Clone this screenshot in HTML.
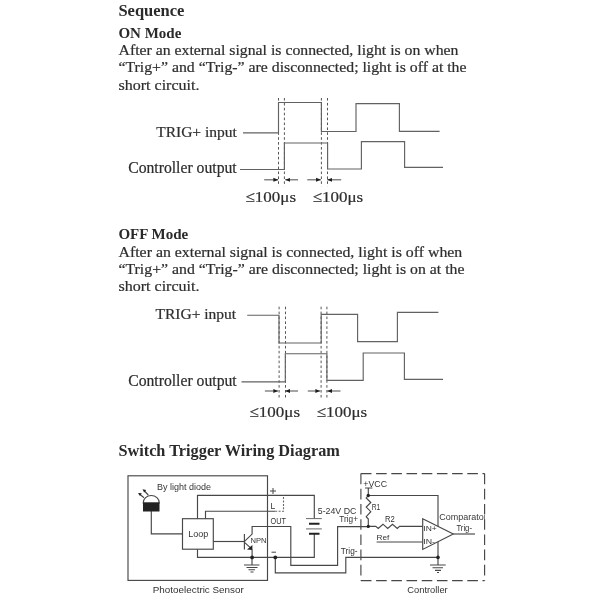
<!DOCTYPE html>
<html><head><meta charset="utf-8">
<style>
html,body{margin:0;padding:0;background:#fff;width:600px;height:600px;overflow:hidden}
svg{display:block;will-change:transform}
.s{font-family:"Liberation Serif",serif;fill:#2e2e2e;stroke:#2e2e2e;stroke-width:0.22}
.b{font-weight:bold;fill:#2a2a2a;stroke:none}
.ss{font-family:"Liberation Sans",sans-serif;fill:#333}
.ln{fill:none;stroke:#626262;stroke-width:1.15}
.dl{fill:none;stroke:#555;stroke-width:1;stroke-dasharray:2.6 2.3}
</style></head><body>
<svg width="600" height="600" viewBox="0 0 600 600">
<defs>
<marker id="ar" viewBox="0 0 10 10" refX="10" refY="5" markerWidth="4.2" markerHeight="4.2" orient="auto"><path d="M0,1 L10,5 L0,9 z" fill="#1e1e1e"/></marker>
</defs>
<!-- Sequence / ON Mode -->
<text class="s b" x="118.4" y="16" font-size="16.5">Sequence</text>
<text class="s b" x="118.4" y="37.6" font-size="15">ON Mode</text>
<text class="s" x="118.5" y="55" font-size="15" textLength="340" lengthAdjust="spacingAndGlyphs">After an external signal is connected, light is on when</text>
<text class="s" x="118.5" y="72.4" font-size="15" textLength="348" lengthAdjust="spacingAndGlyphs">“Trig+” and “Trig-” are disconnected; light is off at the</text>
<text class="s" x="118.5" y="90" font-size="15" textLength="81" lengthAdjust="spacingAndGlyphs">short circuit.</text>
<text class="s" x="156.2" y="136.7" font-size="15.5">TRIG+ input</text>
<text class="s" x="128.2" y="172.9" font-size="15.7">Controller output</text>
<text class="s" x="245.5" y="202" font-size="15.5" textLength="50.5" lengthAdjust="spacingAndGlyphs">≤100μs</text>
<text class="s" x="312.7" y="202" font-size="15.5" textLength="50.5" lengthAdjust="spacingAndGlyphs">≤100μs</text>
<g class="dl"><path d="M278.5,98V186.3M284.4,98V186.3M321.4,98V186.3M327.5,98V186.3"/></g>
<path class="ln" d="M243,132.8H278.5V102.5H321.4V131.5H356V103.6H399.4V131.4H439.6"/>
<path class="ln" d="M240,169.5H284.4V143H327.6V169H361.4V141.6H404.6V167.4H443"/>
<g class="ln" stroke="#444" stroke-width="1"><path d="M264.2,179.8H278.2" marker-end="url(#ar)"/><path d="M298,179.8H285.2" marker-end="url(#ar)"/><path d="M307.3,179.8H320.9" marker-end="url(#ar)"/><path d="M341.2,179.8H327.2" marker-end="url(#ar)"/></g>

<!-- OFF Mode -->
<text class="s b" x="118.4" y="239.4" font-size="15">OFF Mode</text>
<text class="s" x="118.5" y="257" font-size="15" textLength="343.8" lengthAdjust="spacingAndGlyphs">After an external signal is connected, light is off when</text>
<text class="s" x="118.5" y="274" font-size="15" textLength="346" lengthAdjust="spacingAndGlyphs">“Trig+” and “Trig-” are disconnected; light is on at the</text>
<text class="s" x="118.5" y="291" font-size="15" textLength="81" lengthAdjust="spacingAndGlyphs">short circuit.</text>
<text class="s" x="155.5" y="318.7" font-size="15.5">TRIG+ input</text>
<text class="s" x="128.2" y="385.9" font-size="15.7">Controller output</text>
<text class="s" x="249.5" y="417.3" font-size="15.5" textLength="50.5" lengthAdjust="spacingAndGlyphs">≤100μs</text>
<text class="s" x="316.7" y="417.3" font-size="15.5" textLength="50.5" lengthAdjust="spacingAndGlyphs">≤100μs</text>
<g class="dl"><path d="M279.1,306.7V398.7M285.5,306.7V398.7M321.1,306.7V398.7M326.9,306.7V398.7"/></g>
<path class="ln" d="M247.2,315.2H279V343H321.2V314.4H357.6V341.6H397.4V312.4H438.4"/>
<path class="ln" d="M241.5,381.9H285.3V353.7H326.9V380.4H363.2V353H404.4V379.4H443"/>
<g class="ln" stroke="#444" stroke-width="1"><path d="M264.9,391H278.2" marker-end="url(#ar)"/><path d="M298,391H285.2" marker-end="url(#ar)"/><path d="M307.8,391H320.2" marker-end="url(#ar)"/><path d="M340.5,391H327.2" marker-end="url(#ar)"/></g>

<!-- Wiring -->
<text class="s b" x="118.4" y="456" font-size="16.3">Switch Trigger Wiring Diagram</text>

<g font-family="Liberation Sans, sans-serif" fill="#333">
<text x="157" y="489.7" font-size="9" textLength="54" lengthAdjust="spacingAndGlyphs">By light diode</text>
<text x="188.3" y="536.7" font-size="9" textLength="20" lengthAdjust="spacingAndGlyphs">Loop</text>
<text x="250.5" y="542.5" font-size="7.2" textLength="16" lengthAdjust="spacingAndGlyphs">NPN</text>
<text x="270.6" y="508.5" font-size="8.5">L</text>
<text x="270.6" y="524" font-size="8.5" textLength="15.4" lengthAdjust="spacingAndGlyphs">OUT</text>
<text x="317.8" y="513.9" font-size="8.8" textLength="38.5" lengthAdjust="spacingAndGlyphs">5-24V DC</text>
<text x="339.3" y="522.1" font-size="8.5" textLength="18.7" lengthAdjust="spacingAndGlyphs">Trig+</text>
<text x="340.8" y="553.7" font-size="8.5" textLength="16.7" lengthAdjust="spacingAndGlyphs">Trig-</text>
<text x="363.3" y="487" font-size="8.5" textLength="23.7" lengthAdjust="spacingAndGlyphs">+VCC</text>
<text x="371.7" y="509.6" font-size="8.3" textLength="8.6" lengthAdjust="spacingAndGlyphs">R1</text>
<text x="385" y="521.7" font-size="8.3" textLength="9.8" lengthAdjust="spacingAndGlyphs">R2</text>
<text x="376.6" y="539.6" font-size="8" textLength="12.8" lengthAdjust="spacingAndGlyphs">Ref</text>
<text x="423.3" y="530.6" font-size="7.5" textLength="13.4" lengthAdjust="spacingAndGlyphs">IN+</text>
<text x="423.3" y="543.7" font-size="7.5" textLength="11.7" lengthAdjust="spacingAndGlyphs">IN-</text>
<text x="456.4" y="531" font-size="8.5" textLength="15.6" lengthAdjust="spacingAndGlyphs">Trig-</text>
<text x="152.8" y="593.4" font-size="9.8" textLength="91" lengthAdjust="spacingAndGlyphs">Photoelectric Sensor</text>
<text x="407.3" y="593" font-size="9.3" textLength="40.4" lengthAdjust="spacingAndGlyphs">Controller</text>
</g>
<svg x="0" y="0" width="484.3" height="600" overflow="hidden"><text x="439.3" y="520" font-family="Liberation Sans, sans-serif" fill="#3a3a3a" font-size="8.5" textLength="47.5" lengthAdjust="spacingAndGlyphs">Comparator</text></svg>
<g fill="none" stroke="#474747" stroke-width="1.15">
<rect x="128" y="475.8" width="139.5" height="104.6"/>
<path d="M151.3,511 V533.8 H182.5"/>
<rect x="182.5" y="518.7" width="30.8" height="30.5"/>
<path d="M197.5,518.7 V495.3 H314.3 V518.6"/>
<path d="M205.5,518.7 V511.2 H275.2"/>
<path d="M275.2,511.2 H283.5 V495.3" stroke-dasharray="2 1.4" stroke="#666" stroke-width="1.1"/>
<path d="M213.3,541.5 H244.5"/>
<path d="M244.4,533.9 V549.6"/>
<path d="M244.5,541.3 L252.1,534.1 V526.5 H290.8 V565.3 H337.6 V526.6 H368.3"/>
<path d="M244.5,542.4 L250,547.4"/>
<path d="M252.1,549.5 V557.5"/>
<path d="M197.5,549.2 V557.4 H314.3 V533.8"/>
<path d="M275.3,557.4 V572.8 H345.8 V557.4 H438 V541.7"/>
<path d="M252,557.5 V565 M244,565 H259.5 M246.5,567.5 H257.5 M248.5,569.7 H255 M250.5,572 H253.5"/>
<path d="M438,557.4 V565 M430,565 H445.7 M432.5,567.7 H443 M435,570.3 H441 M437,572.5 H439"/>
<path d="M306,518.6 H321.8 M306,528.9 H321.8" stroke="#6a6a6a" stroke-width="1"/>
<path d="M309,523.8 H319.5 M309,533.8 H319.5" stroke="#222" stroke-width="1.9"/>
<path d="M360.9,473.6 H484.6 M484.6,473.6 V580.6 M360.9,580.6 H484.6 M360.9,473.6 V580.6" stroke-dasharray="10.6 4.6"/>
<path d="M365,488 H372.3 M368.3,488 V495.5 L366.2,498 L370.8,502.5 L366.2,507.1 L370.8,511.7 L366.2,516.7 L368.3,519 V526.4"/>
<path d="M368.3,495.5 H438 V526.4"/>
<path d="M368.3,526.4 H375.8 L378.2,528.5 L383,524.2 L387.7,528.5 L392.5,524.2 L397.3,528.5 L399.6,526.4 H422.7"/>
<path d="M376.6,542 H422.7"/>
<path d="M422.7,518.7 L453.3,534 L422.7,549.4 Z"/>
<path d="M453.3,534 H475"/>
<path d="M151.3,503 H143.2 A8.05,7.5 0 0 1 159.3,503 Z"/>
<path d="M144,497.7 L139.5,494 M148.3,495 L144,490.5"/>
</g>
<g fill="#222">
<rect x="143" y="502.5" width="16.5" height="9"/>
<circle cx="252.1" cy="557.4" r="1.9"/>
<circle cx="275.3" cy="557.4" r="1.9"/>
<circle cx="368.3" cy="495.5" r="1.7"/>
<circle cx="368.3" cy="526.4" r="1.6"/>
<circle cx="438" cy="557.4" r="1.8"/>
<path d="M252.4,545 L252.4,549.9 L247,549.6 Z"/>
<path d="M138,493 L141.8,493.3 L140,496 Z M142.5,489.3 L146.2,490 L144.2,492.5 Z"/>
</g>
<path d="M270,491 H276 M273,488 V494 M271.5,552.2 H276" stroke="#444" stroke-width="1" fill="none"/>
</svg>
</body></html>
